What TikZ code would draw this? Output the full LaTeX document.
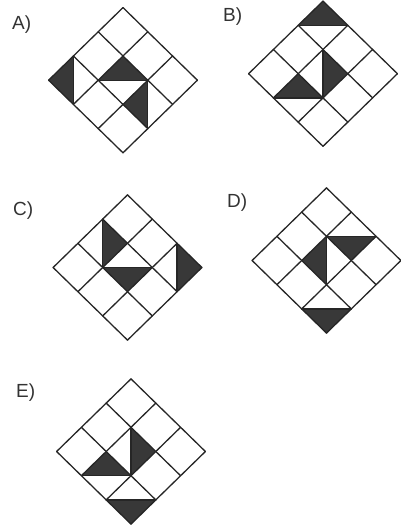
\documentclass[tikz,border=0pt]{standalone}
\usepackage{fontspec}
\setmainfont{Liberation Sans}
\tikzset{
  gridline/.style={draw=black!85, line width=1.3pt, line join=round, line cap=round},
  shade/.style={fill=black!78},
  lbl/.style={anchor=base west, inner sep=0pt, font=\fontsize{19}{21}\selectfont, text=black!80},
  cellgrid/.style={x={(24.8pt,-24.2pt)}, y={(-24.8pt,-24.2pt)}}
}
% cell (i,j): top (i,j), right (i+1,j), bottom (i+1,j+1), left (i,j+1)
\newcommand\halfT[2]{\fill[shade] (#1,#2) -- ({#1+1},#2) -- (#1,{#2+1}) -- cycle;
  \draw[gridline] ({#1+1},#2) -- (#1,{#2+1});}
\newcommand\halfB[2]{\fill[shade] ({#1+1},{#2+1}) -- ({#1+1},#2) -- (#1,{#2+1}) -- cycle;
  \draw[gridline] ({#1+1},#2) -- (#1,{#2+1});}
\newcommand\halfL[2]{\fill[shade] (#1,#2) -- ({#1+1},{#2+1}) -- (#1,{#2+1}) -- cycle;
  \draw[gridline] (#1,#2) -- ({#1+1},{#2+1});}
\newcommand\halfR[2]{\fill[shade] (#1,#2) -- ({#1+1},{#2+1}) -- ({#1+1},#2) -- cycle;
  \draw[gridline] (#1,#2) -- ({#1+1},{#2+1});}
\newcommand\gridlines{\foreach \k in {0,...,3} {
  \draw[gridline] (\k,0) -- (\k,3);
  \draw[gridline] (0,\k) -- (3,\k);}}
\begin{document}
\begin{tikzpicture}[x=1pt,y=-1pt]
\useasboundingbox (0,0) rectangle (400,527);
% A
\node[lbl] (la) at (12,30) {A)};
\begin{scope}[shift={(123,7.6)},cellgrid]
  \halfL{0}{2}\halfT{1}{1}\halfL{2}{1}
  \gridlines
\end{scope}
% B
\node[lbl] (lb) at (223,22) {B)};
\begin{scope}[shift={(323,1.1)},cellgrid]
  \halfT{0}{0}\halfR{1}{1}\halfT{1}{2}
  \gridlines
\end{scope}
% C
\node[lbl] (lc) at (13,215) {C)};
\begin{scope}[shift={(127.5,194.9)},cellgrid]
  \halfR{0}{1}\halfB{1}{1}\halfR{2}{0}
  \gridlines
\end{scope}
% D
\node[lbl] (ld) at (227,207) {D)};
\begin{scope}[shift={(326.5,187.9)},cellgrid]
  \halfB{1}{0}\halfL{1}{1}\halfB{2}{2}
  \gridlines
\end{scope}
% E
\node[lbl] (le) at (16,397) {E)};
\begin{scope}[shift={(131,378.9)},cellgrid]
  \halfR{1}{1}\halfT{1}{2}\halfB{2}{2}
  \gridlines
\end{scope}
\end{tikzpicture}
\end{document}
